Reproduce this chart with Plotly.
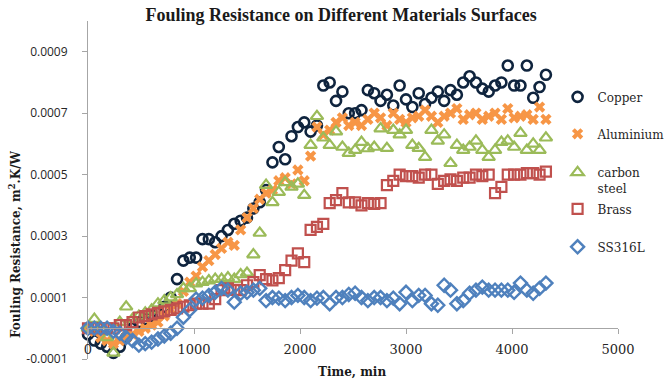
import plotly.graph_objects as go

UNIT = 1e-4  # values below are read in units of 1e-4 m².K/W

time_min = [0, 60, 120, 180, 240, 300, 360, 420, 480, 540, 600, 660, 720, 780, 840, 900,
            960, 1020, 1080, 1140, 1200, 1260, 1320, 1380, 1440, 1500, 1560, 1620, 1680,
            1740, 1800, 1860, 1920, 1980, 2040, 2100, 2160, 2220, 2280, 2340, 2400, 2460,
            2520, 2580, 2640, 2700, 2760, 2820, 2880, 2940, 3000, 3060, 3120, 3180, 3240,
            3300, 3360, 3420, 3480, 3540, 3600, 3660, 3720, 3780, 3840, 3900, 3960, 4020,
            4080, 4140, 4200, 4260, 4320]

copper = [-0.2, -0.4, -0.5, -0.6, -0.8, -0.6, -0.3, 0.0, 0.2, 0.3, 0.4, 0.5, 0.7, 1.0, 1.6, 2.2,
          2.3, 2.3, 2.9, 2.9, 2.8, 3.0, 3.2, 3.4, 3.5, 3.6, 3.9, 4.1, 4.5,
          5.4, 5.9, 5.5, 6.25, 6.55, 6.7, 6.4, 6.6, 7.9, 8.0, 7.4, 7.7, 7.0,
          7.0, 7.1, 7.75, 7.65, 7.4, 7.6, 7.25, 7.9, 7.45, 7.2, 7.65, 7.3, 7.5,
          7.7, 7.4, 7.75, 7.6, 8.0, 8.2, 8.0, 7.8, 7.7, 7.9, 8.0, 8.55, 7.9,
          7.9, 8.55, 7.5, 7.85, 8.25]

aluminium = [0.0, -0.1, -0.3, -0.4, -0.5, -0.4, -0.3, -0.2, -0.1, 0.0, 0.1, 0.2, 0.4, 0.6, 0.8, 1.2,
             1.5, 1.7, 2.0, 2.2, 2.4, 2.6, 2.8, 2.7, 3.2, 3.6, 3.9, 4.2, 4.4,
             4.5, 4.8, 4.9, 4.7, 5.15, 4.8, 5.6, 6.55, 6.3, 6.45, 6.7, 6.85, 6.6,
             6.7, 6.6, 6.8, 7.0, 6.85, 6.6, 7.0, 6.8, 6.7, 6.85, 6.9, 7.1, 6.9,
             6.7, 6.9, 7.0, 7.15, 6.8, 6.95, 7.0, 6.8, 6.9, 7.0, 6.8, 7.15, 6.85,
             6.9, 6.95, 6.8, 7.2, 6.8]

carbon_steel = [0.0, 0.3, 0.0, -0.3, -0.8, 0.2, 0.7, 0.3, 0.4, 0.5, 0.6, 0.8, 0.9, 1.0, 1.1, 1.3,
                1.3, 1.45, 1.5, 1.55, 1.6, 1.6, 1.65, 1.6, 1.75, 1.8, 2.4, 3.1, 4.66,
                4.1, 4.43, 4.75, 4.6, 4.7, 4.33, 5.96, 6.9, 6.2, 5.96, 6.4, 5.9, 5.7,
                5.8, 6.06, 5.85, 5.9, 6.5, 5.86, 6.45, 6.3, 6.45, 5.96, 5.86, 5.57, 6.45,
                6.1, 6.3, 5.37, 5.96, 5.8, 5.9, 6.1, 5.8, 5.57, 5.8, 6.06, 6.1, 5.9,
                6.35, 5.8, 6.0, 5.8, 6.2]

brass = [0.0, 0.0, 0.0, 0.0, 0.0, 0.1, 0.1, 0.2, 0.35, 0.4, 0.45, 0.5, 0.55, 0.6, 0.65, 0.7,
         0.75, 0.8, 0.8, 0.8, 0.95, 1.24, 1.3, 1.25, 1.24, 1.4, 1.5, 1.73, 1.6,
         1.56, 1.63, 1.89, 2.2, 2.44, 2.15, 3.2, 3.3, 3.4, 4.07, 4.17, 4.4, 4.1,
         4.1, 4.0, 4.07, 4.05, 4.07, 4.66, 4.8, 5.0, 4.95, 4.95, 4.9, 5.0, 5.0,
         4.7, 4.8, 4.85, 4.8, 4.9, 4.9, 5.0, 4.95, 5.0, 4.4, 4.6, 5.0, 5.0,
         5.0, 5.05, 5.05, 5.0, 5.1]

ss316l = [0.0, 0.0, 0.0, 0.0, -0.1, -0.16, -0.3, -0.4, -0.55, -0.5, -0.45, -0.35, -0.25, -0.16, 0.0, 0.36,
          0.6, 0.95, 0.98, 1.07, 1.17, 1.3, 1.24, 0.85, 1.14, 1.17, 1.24, 1.3, 0.9,
          1.0, 0.98, 0.9, 1.0, 1.07, 1.0, 0.9, 0.98, 1.0, 0.8, 1.0, 1.0, 1.1,
          1.14, 1.0, 0.9, 1.0, 1.0, 0.9, 0.98, 0.8, 1.17, 0.9, 1.07, 1.07, 0.8,
          0.75, 1.4, 1.24, 0.8, 0.9, 1.14, 1.24, 1.34, 1.24, 1.24, 1.24, 1.24, 1.17,
          1.47, 1.24, 1.14, 1.3, 1.47]

series_names = ["Copper", "Aluminium", "carbon<br>steel", "Brass", "SS316L"]
series_values = [copper, aluminium, carbon_steel, brass, ss316l]

y_tick_vals = [-0.0001, 0.0001, 0.0003, 0.0005, 0.0007, 0.0009]
y_tick_text = ["-0.0001", "0.0001", "0.0003", "0.0005", "0.0007", "0.0009"]
x_tick_vals = [0, 1000, 2000, 3000, 4000, 5000]
x_tick_text = ["0", "1000", "2000", "3000", "4000", "5000"]

styles = [
    dict(symbol="circle-open", color="#0F243E", size=10, line=dict(width=2.6, color="#0F243E")),
    dict(symbol="x", color="#F79646", size=10, line=dict(width=0)),
    dict(symbol="triangle-up-open", color="#9BBB59", size=11, line=dict(width=2.2, color="#9BBB59")),
    dict(symbol="square-open", color="#C0504D", size=10, line=dict(width=2.2, color="#C0504D")),
    dict(symbol="diamond-open", color="#4F81BD", size=10, line=dict(width=2.4, color="#4F81BD")),
]
legend_ids = ["legend", "legend2", "legend3", "legend4", "legend5"]
legend_y = [0.775, 0.6657, 0.528, 0.4438, 0.3314]

fig = go.Figure()
for name, vals, st, lid in zip(series_names, series_values, styles, legend_ids):
    fig.add_trace(go.Scatter(
        x=time_min, y=[v * UNIT for v in vals], mode="markers", name=name,
        marker=st, legend=lid, cliponaxis=False))

PLOT_L, PLOT_R, PLOT_T, PLOT_B = 88, 618, 21, 359
W, H = 665, 384

legend_font = dict(family="DejaVu Serif", size=12, color="#262626")
layout_legends = {}
for lid, ly in zip(legend_ids, legend_y):
    layout_legends[lid] = dict(x=0.886, xanchor="left", y=ly, yanchor="middle",
                               font=legend_font, bgcolor="rgba(0,0,0,0)",
                               valign="top", itemwidth=30, borderwidth=0)

fig.update_layout(
    width=W, height=H,
    margin=dict(l=PLOT_L, r=W - PLOT_R, t=PLOT_T, b=H - PLOT_B, autoexpand=False),
    paper_bgcolor="white", plot_bgcolor="white",
    title=dict(text="<b>Fouling Resistance on Different Materials Surfaces</b>",
               x=0.513, xanchor="center", y=1 - 15 / H, yanchor="middle",
               font=dict(family="Liberation Serif", size=18, color="#1a1a1a")),
    xaxis=dict(range=[0, 5000], tickvals=x_tick_vals, ticktext=x_tick_text,
               anchor="free", position=1 / 11, showgrid=False, zeroline=False,
               showline=True, linecolor="#A6A6A6", linewidth=1,
               ticks="outside", ticklen=5, tickcolor="#A6A6A6",
               ticklabelstandoff=4,
               tickfont=dict(family="DejaVu Serif", size=13, color="#262626")),
    yaxis=dict(range=[-0.0001, 0.001], tickvals=y_tick_vals, ticktext=y_tick_text,
               showgrid=False, zeroline=False, showline=True, linecolor="#A6A6A6",
               linewidth=1, ticks="outside", ticklen=5, tickcolor="#A6A6A6",
               ticklabelstandoff=12,
               tickfont=dict(family="Open Sans", size=12, color="#262626")),
    showlegend=True,
    **layout_legends,
)

fig.add_annotation(text="<b>Time, min</b>", xref="paper", yref="paper",
                   x=(352 - PLOT_L) / (PLOT_R - PLOT_L), y=(PLOT_B - 372) / (PLOT_B - PLOT_T),
                   xanchor="center", yanchor="middle", showarrow=False,
                   font=dict(family="DejaVu Serif", size=12, color="#1a1a1a"))
fig.add_annotation(text="<b>Fouling Resistance, m<sup>2</sup>.K/W</b>", xref="paper", yref="paper",
                   x=(15 - PLOT_L) / (PLOT_R - PLOT_L), y=(PLOT_B - 244) / (PLOT_B - PLOT_T),
                   xanchor="center", yanchor="middle", textangle=-90, showarrow=False,
                   font=dict(family="DejaVu Serif", size=12, color="#1a1a1a"))

fig.write_html("out.html")
